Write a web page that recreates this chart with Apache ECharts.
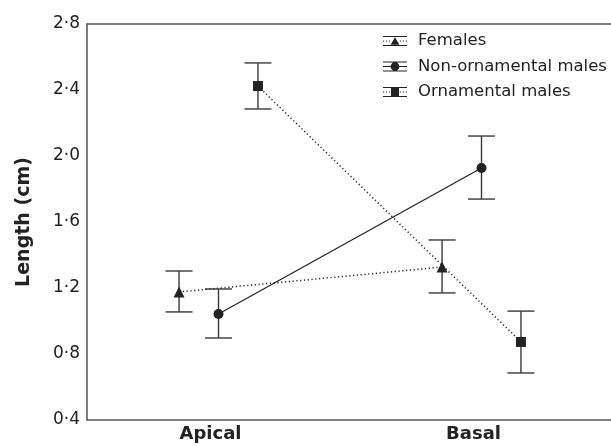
<!DOCTYPE html>
<html>
<head>
<meta charset="utf-8">
<script src="https://cdn.jsdelivr.net/npm/echarts@6/dist/echarts.min.js"></script>
<style>
  html, body { margin: 0; padding: 0; background: #fff; }
  #chart { width: 611px; height: 446px; }
</style>
</head>
<body>
<div id="chart"></div>
<script>
// Categories on the x axis (value 1 = Apical, 2 = Basal)
const categories = ['Apical', 'Basal'];
const seriesNames = ['Females', 'Non-ornamental males', 'Ornamental males'];

// x positions (category +/- dodge)
const femalesX = [0.85, 1.85];
const nonOrnX = [1, 2];
const ornX = [1.15, 2.15];

// means
const femalesMean = [1.176, 1.327];
const nonOrnMean = [1.042, 1.927];
const ornMean = [2.424, 0.873];

// error bar ends [low, high]
const femalesErr = [[1.055, 1.303], [1.170, 1.491]];
const nonOrnErr = [[0.897, 1.194], [1.739, 2.121]];
const ornErr = [[2.285, 2.564], [0.685, 1.060]];

const yTicks = { min: 0.4, max: 2.8, interval: 0.4 };

const FONT = 'DejaVu Sans';
const DARK = '#222';

// legend glyphs: caps, stem, middle line, marker
const caps = 'M0,0H24V0.9H0Z M0,9.1H24V10H0Z M11.55,0H12.45V1H11.55Z M11.55,9H12.45V10H11.55Z ';
const dotted = 'M0,4.6H1.2V5.4H0Z M3,4.6H4.2V5.4H3Z M6,4.6H7.2V5.4H6Z M16.8,4.6H18V5.4H16.8Z M19.8,4.6H21V5.4H19.8Z M22.8,4.6H24V5.4H22.8Z ';
const solid = 'M0,4.6H8V5.4H0Z M16,4.6H24V5.4H16Z ';
const icons = [
  'path://' + caps + dotted + 'M7.6,8.8L12,1.2L16.4,8.8Z',
  'path://' + caps + solid + 'M7.6,5A4.4,4.4 0 1,1 16.4,5A4.4,4.4 0 1,1 7.6,5Z',
  'path://' + caps + dotted + 'M8,1H16V9H8Z'
];

function errorSeries(name, xs, errs) {
  return {
    name: name + ' error',
    type: 'custom',
    z: 2,
    silent: true,
    data: xs.map((x, i) => [x, errs[i][0], errs[i][1]]),
    renderItem: function (params, api) {
      const lo = api.coord([api.value(0), api.value(1)]);
      const hi = api.coord([api.value(0), api.value(2)]);
      const half = 13.5;
      const style = { stroke: '#3a3a3a', lineWidth: 1.4 };
      return {
        type: 'group',
        children: [
          { type: 'line', shape: { x1: lo[0], y1: lo[1], x2: hi[0], y2: hi[1] }, style: style },
          { type: 'line', shape: { x1: lo[0] - half, y1: lo[1], x2: lo[0] + half, y2: lo[1] }, style: style },
          { type: 'line', shape: { x1: hi[0] - half, y1: hi[1], x2: hi[0] + half, y2: hi[1] }, style: style }
        ]
      };
    }
  };
}

function meanSeries(name, xs, ys, symbol, lineType) {
  return {
    name: name,
    type: 'line',
    z: 3,
    data: xs.map((x, i) => [x, ys[i]]),
    symbol: symbol,
    symbolSize: symbol === 'triangle' ? 11 : 10,
    showSymbol: true,
    itemStyle: { color: DARK, opacity: 1 },
    lineStyle: { color: DARK, width: lineType === 'solid' ? 1.2 : 1.5, type: lineType },
    emphasis: { disabled: true }
  };
}

const chart = echarts.init(document.getElementById('chart'));

const option = {
  animation: false,
  textStyle: { fontFamily: FONT },
  grid: { left: 87, top: 24, width: 526, bottom: 26, outerBoundsMode: 'none', containLabel: false },
  legend: {
    orient: 'vertical',
    left: 383,
    top: 31,
    padding: 0,
    itemWidth: 24,
    itemHeight: 10,
    itemGap: 5.5,
    selectedMode: false,
    data: seriesNames.map((n, i) => ({ name: n, icon: icons[i], itemStyle: { color: DARK } })),
    textStyle: { fontFamily: FONT, fontSize: 16.5, color: DARK, lineHeight: 20, padding: [0, 0, 0, 6] }
  },
  xAxis: [
    {
      type: 'value',
      min: 0.5,
      max: 2.5,
      interval: 0.5,
      axisLine: { show: true, onZero: false, lineStyle: { color: '#555', width: 1.5 } },
      axisTick: { show: false },
      splitLine: { show: false },
      axisLabel: {
        fontFamily: FONT,
        fontSize: 18,
        fontWeight: 'bold',
        color: DARK,
        margin: 5,
        padding: [0, 16, 0, 0],
        showMinLabel: true,
        showMaxLabel: true,
        formatter: v => (Math.abs(v - Math.round(v)) < 1e-9 && categories[Math.round(v) - 1]) || ''
      }
    },
    {
      type: 'value',
      position: 'top',
      min: 0.5,
      max: 2.5,
      axisLine: { show: true, onZero: false, lineStyle: { color: '#555', width: 1.5 } },
      axisTick: { show: false },
      axisLabel: { show: false },
      splitLine: { show: false }
    }
  ],
  yAxis: {
    type: 'value',
    min: yTicks.min,
    max: yTicks.max,
    interval: yTicks.interval,
    name: 'Length (cm)',
    nameLocation: 'middle',
    nameGap: 53,
    nameTextStyle: { fontFamily: FONT, fontSize: 19, fontWeight: 'bold', color: DARK },
    axisLine: { show: true, lineStyle: { color: '#555', width: 1.5 } },
    axisTick: { show: false },
    splitLine: { show: false },
    axisLabel: {
      fontFamily: FONT,
      fontSize: 17,
      color: DARK,
      margin: 7,
      formatter: v => v.toFixed(1).replace('.', '\u00b7')
    }
  },
  series: [
    errorSeries('Females', femalesX, femalesErr),
    errorSeries('Non-ornamental males', nonOrnX, nonOrnErr),
    errorSeries('Ornamental males', ornX, ornErr),
    meanSeries('Females', femalesX, femalesMean, 'triangle', [1.2, 2.6]),
    meanSeries('Non-ornamental males', nonOrnX, nonOrnMean, 'circle', 'solid'),
    meanSeries('Ornamental males', ornX, ornMean, 'rect', [1.2, 2.6])
  ]
};

chart.setOption(option);
</script>
</body>
</html>
